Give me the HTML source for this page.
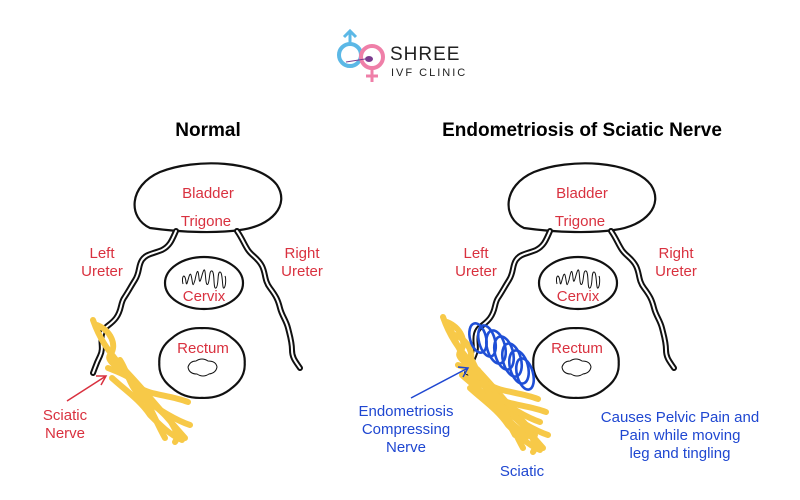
<!DOCTYPE html>
<html><head><meta charset="utf-8"><style>
html,body{margin:0;padding:0;background:#fff;width:800px;height:500px;overflow:hidden}
svg{display:block}
text{font-family:"Liberation Sans",sans-serif}
.r{fill:#d9313f;font-size:15px;text-anchor:middle}
.b{fill:#1f47d1;font-size:15px;text-anchor:middle}
.t{fill:#000;font-size:19px;font-weight:bold;text-anchor:middle}
</style></head><body>
<svg width="800" height="500" viewBox="0 0 800 500">
<defs>
<path id="lup" d="M176,231 C172,240 170,246 162,250 C152,254 146,254 142,260 C138,266 140,272 135,280 C130,288 128,292 124,298 C120,304 122,310 116,318 C110,326 104,326 102,334 C100,342 104,348 100,356 C96,364 95,368 93,373"/>
<path id="rup" d="M237,231 C242,238 244,244 248,250 C252,256 258,258 262,266 C266,274 264,280 270,288 C276,296 278,300 280,308 C282,316 286,320 288,328 C290,336 292,342 292,350 C292,358 296,362 300,368"/>
<g id="diag">
  <path d="M150,228 C128,218 128,186 160,172 C195,158 258,160 277,185 C290,205 272,226 240,230 C220,233 185,233 150,228 Z" fill="none" stroke="#111" stroke-width="2.2"/>
  <g fill="none" stroke-linecap="round" stroke-linejoin="round">
    <use href="#lup" stroke="#111" stroke-width="6"/>
    <use href="#lup" stroke="#fff" stroke-width="2"/>
    <use href="#rup" stroke="#111" stroke-width="6"/>
    <use href="#rup" stroke="#fff" stroke-width="2"/>
  </g>
  <ellipse cx="204" cy="283" rx="39" ry="26" fill="#fff" stroke="#111" stroke-width="2.2"/>
  <path d="M183,284 C181,276 185,272 186,282 C187,290 189,270 191,275 C193,282 192,290 195,280 C197,270 198,268 199,278 C200,288 202,272 204,270 C206,268 205,288 208,284 C210,280 209,270 212,271 C215,272 213,290 216,288 C219,286 217,272 220,272 C223,272 222,290 224,288 C226,286 226,278 225,276" fill="none" stroke="#111" stroke-width="1"/>
  <path d="M244.7,363 Q245.5,377.7 232.2,387.7 Q220,398.6 202,397.9 Q184,398.6 171.8,387.7 Q158.5,377.7 159.3,363 Q158.5,348.3 171.8,338.3 Q184,327.4 202,328.1 Q220,327.4 232.2,338.3 Q245.5,348.3 244.7,363Z" fill="#fff" stroke="#111" stroke-width="2.2" stroke-linejoin="round"/>
  <path d="M188,367 q2,-6 8,-6 q6,-4 12,0 q8,0 9,6 q-1,6 -8,7 q-6,4 -12,0 q-8,0 -9,-7 Z" fill="none" stroke="#111" stroke-width="1"/>
  <text class="r" x="208" y="198">Bladder</text>
  <text class="r" x="206" y="226">Trigone</text>
  <text class="r" x="102" y="258">Left</text>
  <text class="r" x="102" y="276">Ureter</text>
  <text class="r" x="302" y="258">Right</text>
  <text class="r" x="302" y="276">Ureter</text>
  <text class="r" x="204" y="301">Cervix</text>
  <text class="r" x="203" y="353">Rectum</text>
</g>
<g id="nerve" fill="none" stroke="#f7c948" stroke-width="6" stroke-linecap="round" stroke-linejoin="round">
  <path d="M93,320 C100,340 108,350 120,365 C140,385 160,410 185,438"/>
  <path d="M97,325 C110,330 118,345 110,355 C105,362 125,370 130,380 C140,395 150,400 170,420 C175,430 180,435 175,442"/>
  <path d="M108,368 C118,372 135,378 140,388 C150,395 170,395 188,402"/>
  <path d="M112,378 C125,390 140,400 150,415 C160,425 170,435 182,440"/>
  <path d="M120,360 C128,372 130,390 145,400 C160,410 175,420 190,425"/>
  <path d="M140,390 C150,405 155,420 165,438"/>
</g>
</defs>
<!-- logo -->
<circle cx="350" cy="55" r="11" fill="none" stroke="#5cb8e6" stroke-width="4"/>
<path d="M350,44 V31 M344,37 L350,31 L356,37" fill="none" stroke="#5cb8e6" stroke-width="3"/>
<circle cx="372" cy="57" r="11" fill="none" stroke="#ef7fa8" stroke-width="4"/>
<path d="M372,68 V82 M366,76 H378" fill="none" stroke="#ef7fa8" stroke-width="3"/>
<ellipse cx="369" cy="59" rx="4" ry="3" fill="#7a3b8f"/>
<path d="M365,59 L346,62" stroke="#7a3b8f" stroke-width="1"/>
<text x="390" y="60" font-size="19" fill="#222" style="letter-spacing:1px">SHREE</text>
<text x="391" y="76" font-size="11" fill="#222" style="letter-spacing:2px">IVF CLINIC</text>

<text class="t" x="208" y="136">Normal</text>
<text class="t" x="582" y="136">Endometriosis of Sciatic Nerve</text>

<use href="#diag"/>
<use href="#nerve"/>
<use href="#diag" transform="translate(374,0)"/>
<g transform="translate(350,-3)"><use href="#nerve"/></g>
<g transform="translate(358,10)"><use href="#nerve"/></g>

<!-- blue coil -->
<g fill="none" stroke="#1f4fd6" stroke-width="2.6">
  <ellipse cx="478" cy="338" rx="8" ry="15" transform="rotate(-15 478 338)"/>
  <ellipse cx="487" cy="341" rx="8" ry="16" transform="rotate(-15 487 341)"/>
  <ellipse cx="496" cy="347" rx="9" ry="17" transform="rotate(-15 496 347)"/>
  <ellipse cx="504" cy="353" rx="9" ry="17" transform="rotate(-15 504 353)"/>
  <ellipse cx="512" cy="360" rx="9" ry="17" transform="rotate(-15 512 360)"/>
  <ellipse cx="519" cy="367" rx="9" ry="17" transform="rotate(-15 519 367)"/>
  <ellipse cx="525" cy="374" rx="8" ry="16" transform="rotate(-15 525 374)"/>
</g>

<!-- arrows -->
<path d="M67,401 L106,376 M96,376 L106,376 L101,385" fill="none" stroke="#d9313f" stroke-width="1.5"/>
<path d="M411,398 L468,368 M458,367 L468,368 L463,377" fill="none" stroke="#1f47d1" stroke-width="1.5"/>

<text class="r" x="65" y="420">Sciatic</text>
<text class="r" x="65" y="438">Nerve</text>
<text class="b" x="406" y="416">Endometriosis</text>
<text class="b" x="406" y="434">Compressing</text>
<text class="b" x="406" y="452">Nerve</text>
<text class="b" x="522" y="476">Sciatic</text>
<text class="b" x="680" y="422">Causes Pelvic Pain and</text>
<text class="b" x="680" y="440">Pain while moving</text>
<text class="b" x="680" y="458">leg and tingling</text>
</svg>
</body></html>
